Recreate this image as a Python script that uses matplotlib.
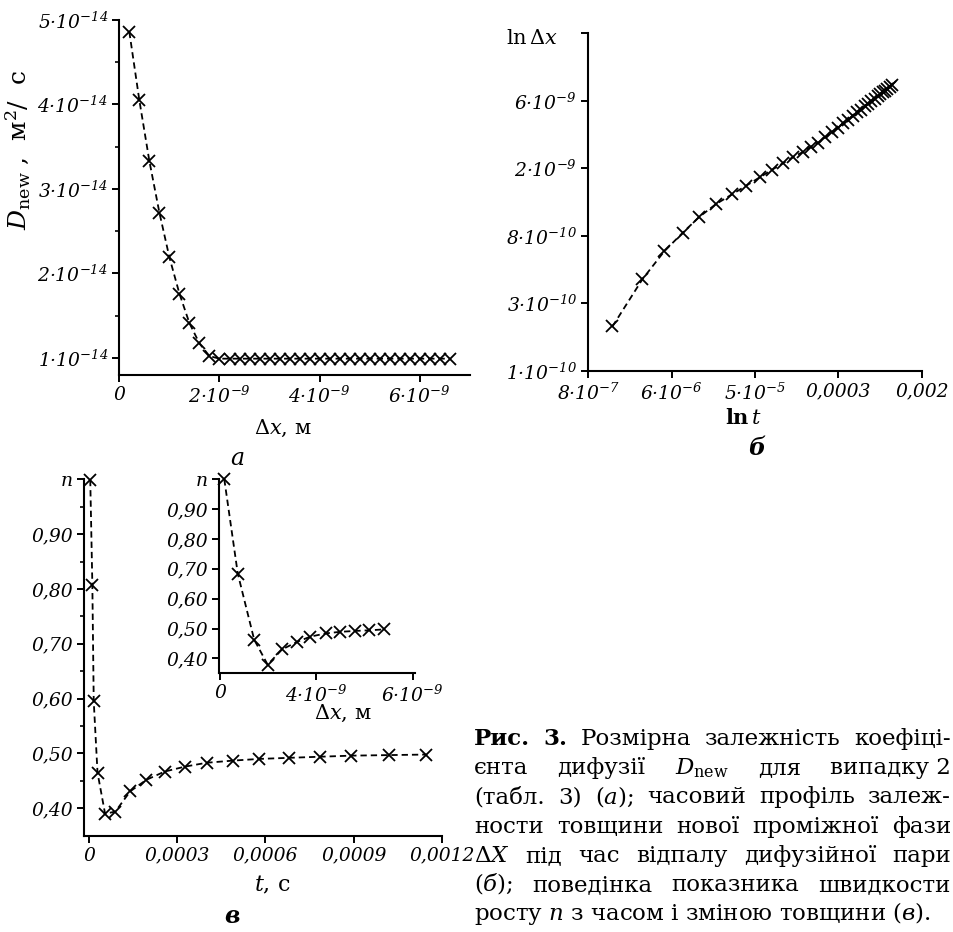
import matplotlib
matplotlib.use("Agg")
import matplotlib.pyplot as plt
from matplotlib.ticker import FixedLocator

plt.rcParams['font.family'] = ['DejaVu Serif']
plt.rcParams['mathtext.fontset'] = 'dejavuserif'

W, H = 954, 932

# ===== дані =====
# (а) D_new від Δx: Δx в одиницях 1e-9 м, D в одиницях 1e-14 м^2/с
dx_a = [0.2, 0.4, 0.6, 0.8, 1.0, 1.2, 1.4, 1.6, 1.8, 2.0, 2.2, 2.4, 2.6, 2.8, 3.0,
        3.2, 3.4, 3.6, 3.8, 4.0, 4.2, 4.4, 4.6, 4.8, 5.0, 5.2, 5.4, 5.6, 5.8, 6.0,
        6.2, 6.4, 6.6]
D_a = [4.86, 4.05, 3.33, 2.72, 2.19, 1.76, 1.41, 1.17, 1.02, 0.99, 0.99, 0.99, 0.99,
       0.99, 0.99, 0.99, 0.99, 0.99, 0.99, 0.99, 0.99, 0.99, 0.99, 0.99, 0.99, 0.99,
       0.99, 0.99, 0.99, 0.99, 0.99, 0.99, 0.99]
a_xticks = [0, 2, 4, 6]
a_xticklabels = ['0', r'$\mathdefault{2·10^{-9}}$', r'$\mathdefault{4·10^{-9}}$',
                 r'$\mathdefault{6·10^{-9}}$']
a_yticks = [1, 2, 3, 4, 5]
a_yticklabels = [r'$\mathdefault{%d·10^{-14}}$' % v for v in a_yticks]

# (б) ln Δx від ln t
lnt_b = [-13.42, -12.70, -12.18, -11.73, -11.34, -10.94, -10.54, -10.22, -9.88, -9.59,
         -9.32, -9.08, -8.86, -8.66, -8.48, -8.31, -8.155, -8.015, -7.885, -7.765,
         -7.655, -7.555, -7.46, -7.37, -7.285, -7.205, -7.13, -7.06, -6.995, -6.935,
         -6.877, -6.822, -6.77, -6.72]
lndx_b = [-22.34, -21.64, -21.23, -20.95, -20.72, -20.53, -20.38, -20.26, -20.13, -20.02,
          -19.92, -19.83, -19.76, -19.68, -19.62, -19.54, -19.46, -19.40, -19.33, -19.28,
          -19.22, -19.17, -19.13, -19.08, -19.04, -19.00, -18.97, -18.93, -18.90, -18.87,
          -18.85, -18.82, -18.79, -18.77]
b_xticks = [-14, -12, -10, -8, -6]
b_xticklabels = [r'$\mathdefault{8·10^{-7}}$', r'$\mathdefault{6·10^{-6}}$',
                 r'$\mathdefault{5·10^{-5}}$', '0,0003', '0,002']
b_yticks = [-23, -22, -21, -20, -19, -18]
b_yticklabels = [r'$\mathdefault{1·10^{-10}}$', r'$\mathdefault{3·10^{-10}}$',
                 r'$\mathdefault{8·10^{-10}}$', r'$\mathdefault{2·10^{-9}}$',
                 r'$\mathdefault{6·10^{-9}}$', '']

# (в) n від t
t_c = [4.6e-6, 1.17e-5, 1.64e-5, 2.93e-5, 5.5e-5, 9.0e-5, 1.405e-4, 1.956e-4, 2.576e-4,
       3.267e-4, 4.0e-4, 4.906e-4, 5.785e-4, 6.79e-4, 7.845e-4, 8.92e-4, 1.0187e-3,
       1.1475e-3]
n_c = [0.999, 0.808, 0.595, 0.465, 0.390, 0.394, 0.431, 0.452, 0.467, 0.476, 0.483,
       0.487, 0.490, 0.492, 0.494, 0.496, 0.497, 0.498]
c_xticks = [0, 0.0003, 0.0006, 0.0009, 0.0012]
c_xticklabels = ['0', '0,0003', '0,0006', '0,0009', '0,0012']
n_ticks = [0.4, 0.5, 0.6, 0.7, 0.8, 0.9, 1.0]
n_ticklabels = ['0,40', '0,50', '0,60', '0,70', '0,80', '0,90', r'$n$']

# вставка: n від Δx (позиції у масштабі осі вставки, 1e-9)
dx_in = [0.09, 0.37, 0.71, 0.99, 1.29, 1.61, 1.88, 2.21, 2.50, 2.81, 3.10, 3.40]
n_in = [1.0, 0.684, 0.463, 0.379, 0.430, 0.456, 0.473, 0.484, 0.489, 0.492, 0.494, 0.497]
in_xticks = [0, 2, 4]
in_xticklabels = ['0', r'$\mathdefault{4·10^{-9}}$', r'$\mathdefault{6·10^{-9}}$']

caption = [
    [('Рис.', 'bold'), ('3.', 'bold'), 'Розмірна', 'залежність', 'коефіці-'],
    ['єнта', 'дифузії', r'$D_{\mathrm{new}}$', 'для', 'випадку 2'],
    ['(табл.', '3)', '($а$);', 'часовий', 'профіль', 'залеж-'],
    ['ности', 'товщини', 'нової', 'проміжної', 'фази'],
    [r'$\Delta X$', 'під', 'час', 'відпалу', 'дифузійної', 'пари'],
    ['($б$);', 'поведінка', 'показника', 'швидкости'],
    ['росту $n$ з часом і зміною товщини ($в$).'],
]

fig = plt.figure(figsize=(W / 100, H / 100), dpi=100)


def add_ax(left, top, right, bottom):
    return fig.add_axes([left / W, 1 - bottom / H, (right - left) / W, (bottom - top) / H])


def ftext(x, y, s, **kw):
    return fig.text(x / W, 1 - y / H, s, **kw)


def style(ax, fs=13.5):
    for s in ('top', 'right'):
        ax.spines[s].set_visible(False)
    for s in ('left', 'bottom'):
        ax.spines[s].set_linewidth(1.5)
    ax.tick_params(which='major', direction='out', length=5, width=1.4, labelsize=fs, pad=3)
    ax.tick_params(which='minor', direction='out', length=3, width=1.2)
    ax.patch.set_alpha(0)


line_kw = dict(color='black', ls=(0, (3.5, 2.2)), lw=1.3, marker='x', ms=8, mew=1.3,
               clip_on=False)

# ===== а =====
ax = add_ax(119.3, 20, 470, 374.7)
ax.plot(dx_a, D_a, **line_kw)
ax.set_xlim(0, 7.0)
ax.set_ylim(0.8, 5.0)
style(ax)
ax.set_xticks(a_xticks)
ax.set_xticklabels(a_xticklabels, fontstyle='italic')
ax.set_yticks(a_yticks)
ax.set_yticklabels(a_yticklabels, fontstyle='italic')
ax.yaxis.set_minor_locator(FixedLocator([1.5, 2.5, 3.5, 4.5]))
ftext(18, 150, r'$D_{\mathrm{new}}$ ,  м$^2$/  c', fontsize=18, rotation=90,
      ha='center', va='center')
ftext(283, 428, r'$\Delta x$, м', fontsize=15, ha='center', va='center')
ftext(237, 458, 'а', fontsize=17, fontstyle='italic', ha='center', va='center')

# ===== б =====
ax = add_ax(588.3, 33.3, 921.7, 371)
ax.plot(lnt_b, lndx_b, **line_kw)
ax.set_xlim(-14, -6)
ax.set_ylim(-23, -18)
style(ax)
ax.set_xticks(b_xticks)
ax.set_xticklabels(b_xticklabels, fontstyle='italic')
ax.set_yticks(b_yticks)
ax.set_yticklabels(b_yticklabels, fontstyle='italic')
ftext(558, 38, r'$\ln\Delta x$', fontsize=15, ha='right', va='center')
ftext(743, 418, r'$\mathbf{ln}\,t$', fontsize=15, ha='center', va='center')
ftext(757, 448, 'б', fontsize=17, fontstyle='italic', fontweight='bold', ha='center', va='center')

# ===== в =====
ax = add_ax(83.7, 479.3, 441.9, 835.7)
ax.plot(t_c, n_c, **line_kw)
ax.set_xlim(-1.77e-5, 1.2e-3)
ax.set_ylim(0.35, 1.0)
style(ax)
ax.set_xticks(c_xticks)
ax.set_xticklabels(c_xticklabels, fontstyle='italic')
ax.set_yticks(n_ticks)
ax.set_yticklabels(n_ticklabels, fontstyle='italic')
ax.yaxis.set_minor_locator(FixedLocator([0.45, 0.55, 0.65, 0.75, 0.85, 0.95]))
ftext(272, 885, r'$t$, c', fontsize=16, ha='center', va='center')
ftext(232, 916, 'в', fontsize=17, fontstyle='italic', fontweight='bold', ha='center', va='center')

# вставка
ax = add_ax(219, 479.3, 415, 673.3)
ax.plot(dx_in, n_in, **line_kw)
ax.set_xlim(-0.02, 4.05)
ax.set_ylim(0.35, 1.0)
style(ax)
ax.set_xticks(in_xticks)
ax.set_xticklabels(in_xticklabels, fontstyle='italic')
ax.set_yticks(n_ticks)
ax.set_yticklabels(n_ticklabels, fontstyle='italic')
ftext(343, 713, r'$\Delta x$, м', fontsize=15, ha='center', va='center')

# ===== підпис (вирівнювання по ширині) =====
cap_left, cap_right = 474, 951
cap_fs = 16.5
r = fig.canvas.get_renderer()
for i, words in enumerate(caption):
    y = 745 + i * 29.2
    texts = []
    for w in words:
        if isinstance(w, tuple):
            texts.append(ftext(0, y, w[0], fontsize=cap_fs, fontweight=w[1], va='baseline'))
        else:
            texts.append(ftext(0, y, w, fontsize=cap_fs, va='baseline'))
    widths = [t.get_window_extent(r).width for t in texts]
    if len(texts) > 1:
        gap = (cap_right - cap_left - sum(widths)) / (len(texts) - 1)
    else:
        gap = 0
    x = cap_left
    for t, wd in zip(texts, widths):
        t.set_x(x / W)
        x += wd + gap

fig.savefig('out.png', dpi=100, facecolor='white')
